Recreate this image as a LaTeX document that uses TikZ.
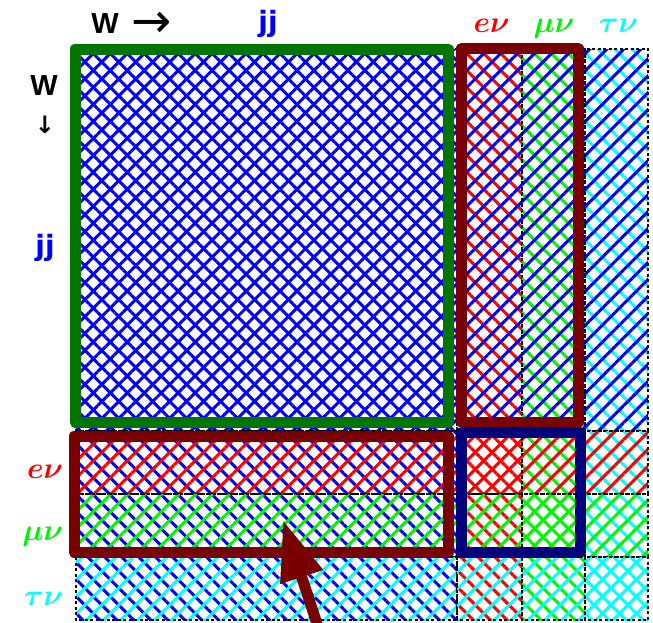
\RequirePackage{fix-cm}
\documentclass[tikz,border=0pt]{standalone}
\usepackage{fontspec}
\newfontfamily\wfont{Liberation Sans}
\newfontfamily\jfont{DejaVu Sans}
\usetikzlibrary{patterns.meta,arrows.meta}
\definecolor{hred}{RGB}{255,0,0}
\definecolor{hgreen}{RGB}{0,245,0}
\definecolor{hblue}{RGB}{0,0,255}
\definecolor{hcyan}{RGB}{0,255,255}
\definecolor{fgreen}{RGB}{0,118,0}
\definecolor{fmaroon}{RGB}{120,0,0}
\definecolor{fnavy}{RGB}{0,0,125}
\tikzset{
  rowhatch/.style={pattern={Lines[angle=45,distance=12pt,line width=3pt]}, pattern color=#1},
  colhatch/.style={pattern={Lines[angle=-45,distance=12pt,line width=3pt]}, pattern color=#1},
  cellgrid/.style={black, line width=1.2pt, dash pattern=on 3pt off 2.5pt},
  frame/.style={line width=11pt, line join=round},
  lbl/.style={inner sep=0pt, outer sep=0pt},
  greeklbl/.style={lbl, font=\fontsize{30}{30}\selectfont\boldmath},
  wlbl/.style={lbl, font=\wfont\bfseries\fontsize{29}{29}\selectfont},
  arrlbl/.style={lbl, font=\jfont\bfseries},
  jjlbl/.style={lbl, font=\jfont\bfseries\fontsize{28}{28}\selectfont, text=hblue},
  bigarrow/.style={fmaroon, line width=11pt, -{Triangle[length=60pt,width=42pt]}}
}
\begin{document}
\begin{tikzpicture}[x=1pt,y=-1pt]
\useasboundingbox (0,0) rectangle (653,622);
% cells
\foreach \xa/\xb/\cc in {76/457/hblue, 457/522/hred, 522/585/hgreen, 585/648/hcyan}{
  \foreach \ya/\yb/\rc in {49/431/hblue, 431/494/hred, 494/557/hgreen, 557/620/hcyan}{
    \fill[colhatch=\cc] (\xa,\ya) rectangle (\xb,\yb);
    \fill[rowhatch=\rc] (\xa,\ya) rectangle (\xb,\yb);
    \draw[cellgrid] (\xa,\ya) rectangle (\xb,\yb);
  }
}
% frames
\draw[frame, fgreen] (75,49) rectangle (448,422);
\draw[frame, fmaroon] (461.5,48) rectangle (578,422);
\draw[frame, fmaroon] (74,436) rectangle (448,552);
\draw[frame, fnavy] (461.5,432.5) rectangle (580.5,552);
% labels top
\node[wlbl, anchor=base] (wtop) at (105,33) {W};
\node[arrlbl, anchor=base, font=\jfont\fontsize{48}{48}\selectfont] (arrtop) at (152,37) {→};
\node[jjlbl, anchor=base] (jjtop) at (268,31) {jj};
\node[greeklbl, text=hred, anchor=base] (etop) at (491.5,32) {$e\nu$};
\node[greeklbl, text=hgreen, anchor=base] (mutop) at (554,32) {$\mu\nu$};
\node[greeklbl, text=hcyan, anchor=base] (tautop) at (618.5,32) {$\tau\nu$};
% labels left
\node[wlbl, anchor=base] (wleft) at (44,95) {W};
\node[arrlbl, anchor=base, font=\jfont\bfseries\fontsize{24}{24}\selectfont] (arrleft) at (45,133) {↓};
\node[jjlbl, anchor=base] (jjleft) at (45,255) {jj};
\node[greeklbl, text=hred, anchor=base east] (eleft) at (63,478) {$e\nu$};
\node[greeklbl, text=hgreen, anchor=base east] (muleft) at (63,540) {$\mu\nu$};
\node[greeklbl, text=hcyan, anchor=base east] (tauleft) at (63,605) {$\tau\nu$};
% arrow
\coordinate (arrstart) at (322,639);
\coordinate (arrtip) at (283,520);
\draw[bigarrow] (arrstart) -- (arrtip);
\end{tikzpicture}
\end{document}
